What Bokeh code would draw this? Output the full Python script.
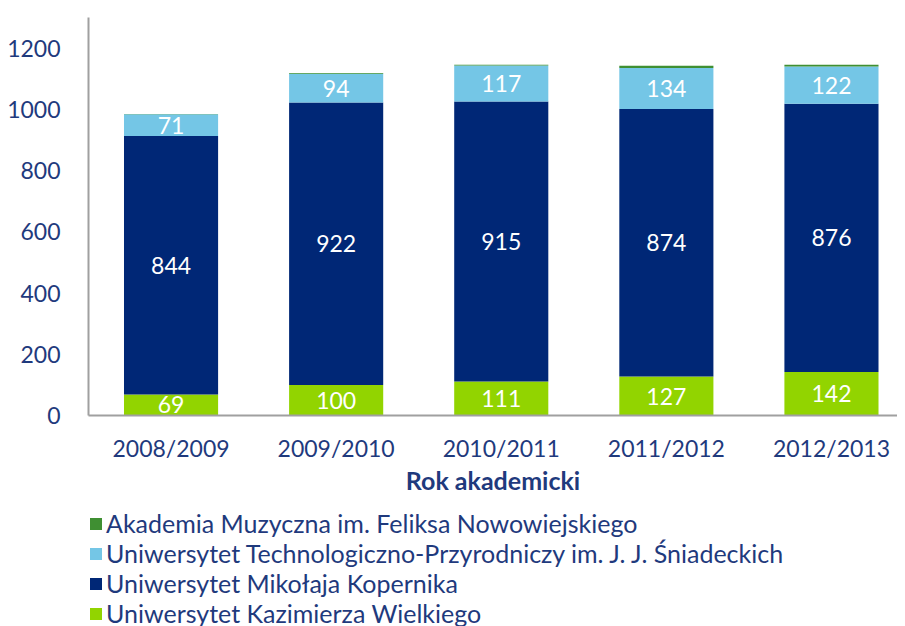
from bokeh.plotting import figure
from bokeh.layouts import column
from bokeh.models import ColumnDataSource, Range1d, FixedTicker, Legend, LegendItem
from bokeh.core.properties import value
from bokeh.embed import file_html
from bokeh.resources import INLINE

years = ["2008/2009", "2009/2010", "2010/2011", "2011/2012", "2012/2013"]
ukw = [69, 100, 111, 127, 142]          # Uniwersytet Kazimierza Wielkiego
umk = [844, 922, 915, 874, 876]         # Uniwersytet Mikołaja Kopernika
utp = [71, 94, 117, 134, 122]           # Uniwersytet Technologiczno-Przyrodniczy
am = [1, 3, 3, 7, 6]                    # Akademia Muzyczna

series_names = [
    "Uniwersytet Kazimierza Wielkiego",
    "Uniwersytet Mikołaja Kopernika",
    "Uniwersytet Technologiczno-Przyrodniczy im. J. J. Śniadeckich",
    "Akademia Muzyczna im. Feliksa Nowowiejskiego",
]
colors = ["#92D400", "#002776", "#74C6E6", "#3F8F32"]
y_ticks = [0, 200, 400, 600, 800, 1000, 1200]

FONT = "Lato"
TXT = "#1F3A7D"

xs = [i + 0.5 for i in range(len(years))]
src = ColumnDataSource(dict(x=xs, ukw=ukw, umk=umk, utp=utp, am=am))

p = figure(width=897, height=500, output_backend="svg", toolbar_location=None,
           x_range=Range1d(0, 4.90), y_range=Range1d(0, 1300),
           min_border_left=87, min_border_top=17, min_border_right=0,
           min_border_bottom=85)
p.xgrid.visible = False
p.ygrid.visible = False
p.outline_line_color = None

rs = p.vbar_stack(["ukw", "umk", "utp", "am"], x="x", width=0.57,
                  color=colors, line_color=None, source=src)

# value labels (white, centred in segments)
lx, ly, lt = [], [], []
for i in range(len(years)):
    base = 0
    for vals in (ukw, umk, utp):
        lx.append(xs[i])
        ly.append(base + vals[i] / 2)
        lt.append(str(vals[i]))
        base += vals[i]
p.text(x=lx, y=ly, text=lt, text_align="center", text_baseline="middle",
       text_color="white", text_font=value(FONT), text_font_size="23px")

# axes
xa = p.xaxis[0]
xa.ticker = FixedTicker(ticks=xs)
xa.major_label_overrides = {x: y for x, y in zip(xs, years)}
xa.major_tick_line_color = None
xa.minor_tick_line_color = None
xa.major_label_standoff = 12
xa.major_label_text_font = FONT
xa.major_label_text_font_size = "23px"
xa.major_label_text_color = TXT
xa.axis_line_color = "#A0A0A0"
xa.axis_line_width = 2
xa.axis_label = "Rok akademicki"
xa.axis_label_text_font = FONT
xa.axis_label_text_font_size = "25px"
xa.axis_label_text_font_style = "bold"
xa.axis_label_text_color = TXT
xa.axis_label_standoff = 0

ya = p.yaxis[0]
ya.ticker = FixedTicker(ticks=y_ticks)
ya.major_tick_line_color = None
ya.minor_tick_line_color = None
ya.major_label_standoff = 22
ya.major_label_text_font = FONT
ya.major_label_text_font_size = "23px"
ya.major_label_text_color = TXT
ya.axis_line_color = "#A0A0A0"
ya.axis_line_width = 2

# legend in its own strip below the chart
lg = figure(width=897, height=126, output_backend="svg", toolbar_location=None,
            x_range=Range1d(0, 1), y_range=Range1d(0, 1),
            x_axis_location=None, y_axis_location=None,
            min_border_left=88, min_border_top=8, min_border_right=0,
            min_border_bottom=0)
lg.xgrid.visible = False
lg.ygrid.visible = False
lg.outline_line_color = None
# off-range swatches, only used to draw the legend glyphs
swatch = [lg.vbar(x=[5], top=[1], width=0.5, color=c, line_color=None) for c in colors]

items = [LegendItem(label=series_names[k], renderers=[swatch[k]]) for k in (3, 2, 1, 0)]
legend = Legend(items=items, location="top_left", orientation="vertical",
                label_text_font=FONT, label_text_font_size="25px",
                label_text_color=TXT, glyph_width=15, glyph_height=15,
                label_height=30, spacing=0, padding=10, margin=0,
                label_standoff=3, border_line_color=None,
                background_fill_alpha=0)
lg.add_layout(legend, "center")

layout = column(p, lg, spacing=0)
open("out.html", "w").write(file_html(layout, INLINE))
